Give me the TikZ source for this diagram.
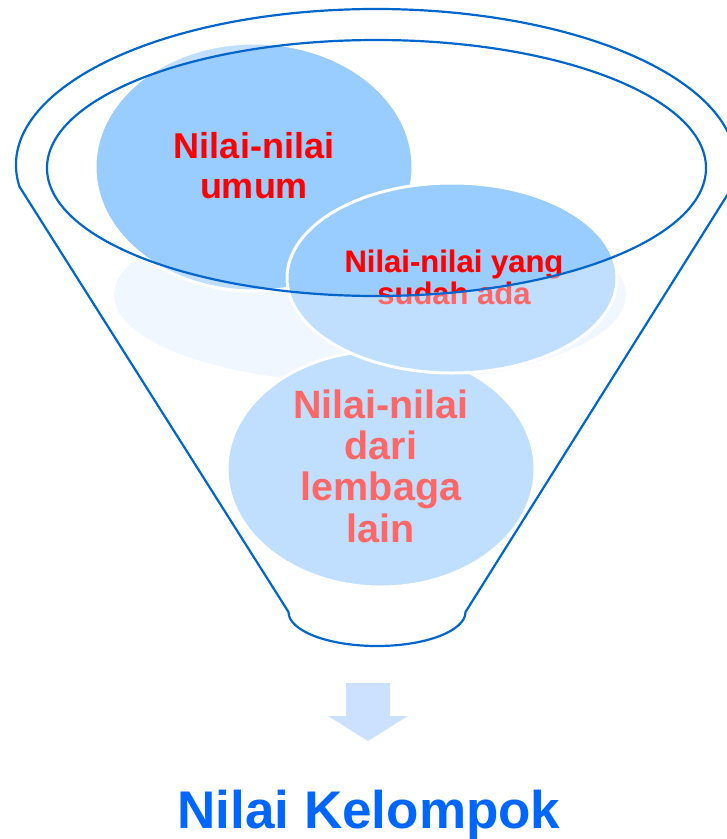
\documentclass[tikz,border=0pt]{standalone}
\usepackage{fontspec}
\setmainfont{Liberation Sans}
\usetikzlibrary{shapes.geometric}
\definecolor{funnelblue}{RGB}{0,102,204}
\definecolor{bubbledark}{RGB}{153,204,255}
\definecolor{bubblelight}{RGB}{192,223,255}
\definecolor{bubblepale}{RGB}{241,247,255}
\definecolor{textred}{RGB}{255,0,0}
\definecolor{textfade}{RGB}{255,102,102}
\definecolor{arrowblue}{RGB}{204,225,255}
\definecolor{titleblue}{RGB}{0,102,255}
\tikzset{
  rim/.style={draw=funnelblue, line width=2.2pt, line join=round},
  bubble/.style={draw=white, line width=3pt},
  bubbletext/.style={align=center, inner sep=0pt, anchor=base, font=\bfseries},
}

\begin{document}
\begin{tikzpicture}[x=1pt,y=-1pt]
\useasboundingbox (0,0) rectangle (727,839);
% Define coordinates
\coordinate (O) at (376,165);   % outer rim
\coordinate (I) at (376.5,168); % inner rim
\coordinate (LK) at (19.5,186.7);
\coordinate (RK) at (732.5,186.7);
\coordinate (LB) at (288.5,612);
\coordinate (RB) at (465.5,612);
%
\coordinate (Cumum) at (254,167);
\coordinate (Cada) at (452,278);
\coordinate (Clain) at (381,469);
\coordinate (Cpale) at (370,295);
% Pale shadow
\fill[bubblepale] (Cpale) ellipse [x radius=256, y radius=88];
% Bubbles, faded
\filldraw[bubble, fill=bubblelight] (Cumum) ellipse [x radius=159, y radius=124];
\filldraw[bubble, fill=bubblelight] (Clain) ellipse [x radius=154, y radius=118];
\filldraw[bubble, fill=bubblelight] (Cada) ellipse [x radius=165, y radius=95];
% Bubbles inside the rim
\begin{scope}
\clip (I) ellipse [x radius=329.5, y radius=128];
\filldraw[bubble, fill=bubbledark] (Cumum) ellipse [x radius=159, y radius=124];
\filldraw[bubble, fill=bubbledark] (Cada) ellipse [x radius=165, y radius=95];
\end{scope}
% Labels
\node[bubbletext, text=textred, font=\bfseries\fontsize{36}{40}\selectfont]
  (umum) at (254,198) {Nilai-nilai\\umum};
\node[bubbletext, text=textfade, font=\bfseries\fontsize{31}{32}\selectfont]
  (ada) at (454,304) {Nilai-nilai yang\\sudah ada};
\begin{scope}
\clip (I) ellipse [x radius=329.5, y radius=128];
\node[bubbletext, text=textred, font=\bfseries\fontsize{31}{32}\selectfont]
  (adatop) at (454,304) {Nilai-nilai yang\\sudah ada};
\end{scope}
\node[bubbletext, text=textfade, font=\bfseries\fontsize{39.5}{41.3}\selectfont]
  (lain) at (381,542) {Nilai-nilai\\dari\\lembaga\\lain};
% Funnel
\draw[rim] (LK) arc[start angle=172, end angle=368, x radius=360, y radius=156]
  -- (RB) arc[start angle=0, end angle=180, x radius=88.5, y radius=34] -- cycle;
\draw[rim] (I) ellipse [x radius=329.5, y radius=128];
% Arrow and result
\fill[arrowblue] (346,683) -- (390,683) -- (390,716) -- (408,716) -- (368,741)
  -- (328,716) -- (346,716) -- cycle;
\node[anchor=base, inner sep=0pt, text=titleblue, font=\bfseries\fontsize{53}{60}\selectfont]
  (kelompok) at (369,828) {Nilai Kelompok};
\end{tikzpicture}
\end{document}
